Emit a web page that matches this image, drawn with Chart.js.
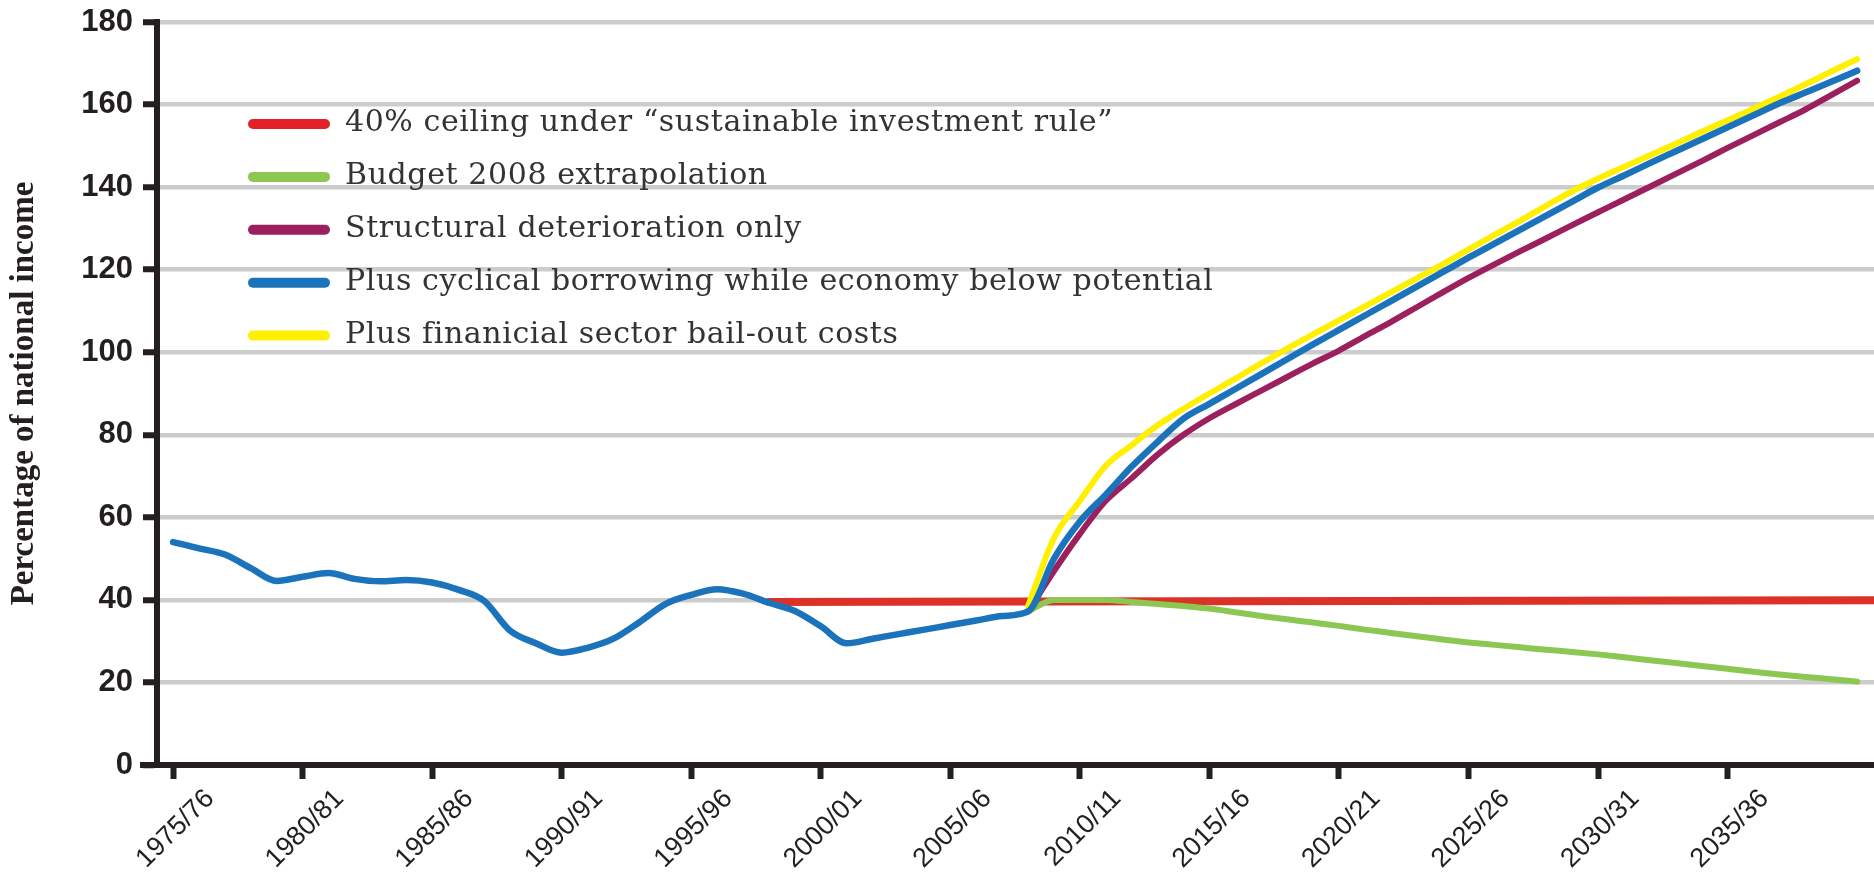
<!DOCTYPE html>
<html>
<head>
<meta charset="utf-8">
<title>Public sector net debt projections</title>
<script src="https://cdn.jsdelivr.net/npm/chart.js@4.4.1/dist/chart.umd.min.js"></script>
<style>
  html, body { margin: 0; padding: 0; background: #fff; }
  #wrap { width: 1874px; height: 875px; }
</style>
</head>
<body>
<div id="wrap"><canvas id="debtChart" width="1874" height="875"></canvas></div>
<script>
// fiscal years on the x axis, 1975/76 .. 2041/42
const years = [];
for (let y = 1975; y <= 2041; y++) years.push(`${y}/${String(y + 1).slice(2)}`);

const tickLabels = ['1975/76', '1980/81', '1985/86', '1990/91', '1995/96', '2000/01',
                    '2005/06', '2010/11', '2015/16', '2020/21', '2025/26', '2030/31', '2035/36'];

const seriesNames = [
    '40% ceiling under \u201csustainable investment rule\u201d',
    'Budget 2008 extrapolation',
    'Structural deterioration only',
    'Plus cyclical borrowing while economy below potential',
    'Plus finanicial sector bail-out costs'
];
const seriesColors = ['#e32228', '#8cc751', '#9c1f5e', '#1b74bb', '#fff000'];
const lineColors   = ['#dc3127', '#8cc751', '#9c1f5e', '#1b74bb', '#fff000'];

// outturn, 1975/76 .. 2008/09 (% of national income)
const historic = [54, 52.5, 51, 47.7, 44.6, 45.6, 46.5, 45.1, 44.5, 44.8,
                  44.2, 42.5, 39.8, 32.6, 29.5, 27.2, 28.4, 30.6, 34.6, 39,
                  41.2, 42.6, 41.5, 39.3, 37.3, 33.6, 29.5, 30.6, 31.7, 32.8,
                  33.9, 35, 36.1, 37.2];

// projections, 2008/09 .. 2040/41
const projStart = '2008/09';
const budget2008 = [37.2, 40, 40, 40, 39.5, 39, 38.5, 37.9, 37, 36.1,
                    35.3, 34.5, 33.7, 32.8, 32, 31.2, 30.4, 29.7, 29.1, 28.5,
                    27.9, 27.4, 26.8, 26.1, 25.4, 24.7, 24, 23.3, 22.6, 21.9,
                    21.3, 20.8, 20.2];
const structural = [37.2, 47, 56, 64, 69.5, 75.2, 80, 84, 87.4, 90.7,
                    94, 97.3, 100.4, 103.9, 107.3, 110.9, 114.5, 118, 121.3, 124.5,
                    127.6, 130.8, 133.9, 137, 140.1, 143.2, 146.3, 149.5, 152.6, 155.7,
                    158.8, 162.3, 165.8];
const cyclical   = [37.2, 50, 59, 65.5, 72.3, 78.3, 83.9, 87.5, 91.1, 94.7,
                    98.3, 101.9, 105.4, 108.9, 112.4, 115.9, 119.4, 122.9, 126.3, 129.7,
                    133.1, 136.5, 139.9, 142.8, 145.8, 148.7, 151.6, 154.5, 157.4, 160.3,
                    162.9, 165.5, 168.2];
const bailout    = [38.5, 55, 64, 72.5, 77.5, 82.3, 86.3, 90, 93.6, 97.3,
                    100.9, 104.3, 107.7, 111.1, 114.5, 117.9, 121.3, 124.9, 128.4, 131.9,
                    135.5, 139, 142.1, 144.9, 147.7, 150.5, 153.4, 156.2, 159, 161.9,
                    164.9, 168, 171];

// the 40% ceiling line
const ceilingYears = ['1998/99', '2008/09', '2041/42'];
const ceiling = [39.5, 39.6, 39.9];

const yMin = 0, yMax = 180, yStep = 20;

const idx = label => years.indexOf(label);
const toPoints = (vals, start) => vals.map((v, i) => ({ x: start + i, y: v }));
const p0 = idx(projStart);

// legend drawn inside the plot, plus the small stub of x axis left of the y axis
const insideLegend = {
    id: 'insideLegend',
    afterDatasetsDraw(chart) {
        const ctx = chart.ctx;
        const area = chart.chartArea;
        ctx.save();
        ctx.fillStyle = '#231f20';
        ctx.fillRect(area.left - 17, area.bottom - 3, 17, 6);

        ctx.font = '30px "DejaVu Serif"';
        if ('letterSpacing' in ctx) ctx.letterSpacing = '0.6px';
        ctx.textBaseline = 'alphabetic';
        ctx.lineCap = 'round';
        ctx.lineWidth = 10;
        seriesNames.forEach((name, i) => {
            const y = area.top + 102 + i * 52.9;
            ctx.strokeStyle = seriesColors[i];
            ctx.beginPath();
            ctx.moveTo(area.left + 96, y);
            ctx.lineTo(area.left + 168, y);
            ctx.stroke();
            ctx.fillStyle = '#333333';
            ctx.fillText(name, area.left + 188, y + 7);
        });
        ctx.restore();
    }
};

function makeChart() {
    const ctx = document.getElementById('debtChart').getContext('2d');
    const ds = (i, data, order, width) => ({
        label: seriesNames[i],
        data: data,
        borderColor: lineColors[i],
        backgroundColor: lineColors[i],
        borderWidth: width,
        pointRadius: 0,
        cubicInterpolationMode: 'monotone',
        borderCapStyle: 'round',
        borderJoinStyle: 'round',
        fill: false,
        order: order
    });

    new Chart(ctx, {
        type: 'line',
        data: {
            datasets: [
                ds(0, ceilingYears.map((l, i) => ({ x: idx(l), y: ceiling[i] })), 5, 8),
                ds(1, toPoints(budget2008, p0), 4, 6),
                ds(2, toPoints(structural, p0), 3, 6),
                ds(3, toPoints(historic, 0).concat(toPoints(cyclical.slice(1), p0 + 1)), 1, 6.5),
                ds(4, toPoints(bailout, p0), 2, 6)
            ]
        },
        options: {
            responsive: false,
            animation: false,
            devicePixelRatio: 1,
            events: [],
            layout: { padding: { top: 22, right: 0, left: 0, bottom: 0 } },
            plugins: {
                legend: { display: false },
                tooltip: { enabled: false }
            },
            scales: {
                x: {
                    type: 'linear',
                    min: -0.62,
                    max: 65.65,
                    afterFit: scale => { scale.height = 110; },
                    afterBuildTicks: scale => {
                        scale.ticks = tickLabels.map(l => ({ value: idx(l) }));
                    },
                    grid: {
                        drawOnChartArea: false,
                        drawTicks: true,
                        tickLength: 14,
                        tickWidth: 6,
                        tickColor: '#231f20'
                    },
                    border: { display: true, color: '#231f20', width: 6 },
                    ticks: {
                        autoSkip: false,
                        maxRotation: 45,
                        minRotation: 45,
                        padding: 4,
                        labelOffset: 37,
                        color: '#231f20',
                        font: { family: '"Liberation Sans", Arial, sans-serif', size: 27 },
                        callback: value => years[value]
                    }
                },
                y: {
                    min: yMin,
                    max: yMax,
                    afterFit: scale => {
                        scale.width = 157;
                        scale.paddingTop = 0;
                        scale.paddingBottom = 0;
                    },
                    grid: {
                        color: '#cccccc',
                        lineWidth: 4.5,
                        drawTicks: true,
                        tickLength: 14,
                        tickWidth: 6,
                        tickColor: '#231f20'
                    },
                    border: { display: true, color: '#231f20', width: 6 },
                    ticks: {
                        stepSize: yStep,
                        padding: 10,
                        color: '#231f20',
                        font: { family: '"Liberation Sans", Arial, sans-serif', size: 31, weight: 'bold' }
                    },
                    title: {
                        display: true,
                        text: 'Percentage of national income',
                        color: '#231f20',
                        padding: { top: 5, bottom: 0 },
                        font: { family: '"Liberation Serif", serif', size: 33, weight: 'bold' }
                    }
                }
            }
        },
        plugins: [insideLegend]
    });
}

window.onload = function() {
    makeChart();
};
</script>
</body>
</html>
